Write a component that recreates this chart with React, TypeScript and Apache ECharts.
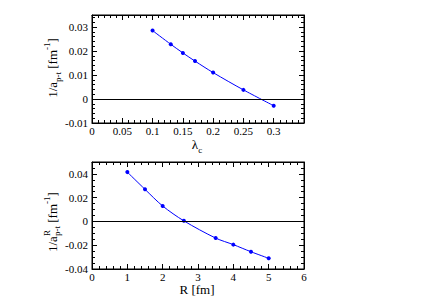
import React, { useEffect, useRef } from "react";
import * as echarts from "echarts";

const lambdaC = [0.1, 0.13, 0.15, 0.17, 0.2, 0.25, 0.3];
const invA = [0.0285, 0.0228, 0.0192, 0.0158, 0.011, 0.0038, -0.0028];
const radiusR = [1, 1.5, 2, 2.6, 3.5, 4, 4.5, 5];
const invAR = [0.0415, 0.027, 0.013, 0.0005, -0.014, -0.0195, -0.0255, -0.031];

const FONT = "'Liberation Serif', 'Times New Roman', serif";

export default function App() {
  const ref = useRef<HTMLDivElement>(null);
  useEffect(() => {
    if (!ref.current) return;
    const chart = echarts.init(ref.current, null, { renderer: "svg" });
    const labelStyle = { fontFamily: FONT, fontSize: 11, color: "#000" };
    const mkX = (gridIndex: number, min: number, max: number, interval: number, top: boolean, margin: number) => ({
      type: "value",
      gridIndex,
      min,
      max,
      interval,
      position: top ? "top" : "bottom",
      axisLine: { show: true, onZero: false, lineStyle: { color: "#000", width: 1 } },
      axisTick: { show: true, inside: true, length: 5, lineStyle: { color: "#000" } },
      minorTick: { show: true, splitNumber: 5, length: 3, lineStyle: { color: "#000" } },
      splitLine: { show: false },
      axisLabel: { show: !top, margin, showMaxLabel: max === 6, ...labelStyle },
    });
    const mkY = (gridIndex: number, min: number, max: number, interval: number, right: boolean, split: number) => ({
      type: "value",
      gridIndex,
      min,
      max,
      interval,
      position: right ? "right" : "left",
      axisLine: { show: true, onZero: false, lineStyle: { color: "#000", width: 1 } },
      axisTick: { show: true, inside: true, length: 5, lineStyle: { color: "#000" } },
      minorTick: { show: true, splitNumber: split, length: 3, lineStyle: { color: "#000" } },
      splitLine: { show: false },
      axisLabel: { show: !right, margin: 4, showMaxLabel: false, ...labelStyle },
    });
    const zeroLine = {
      silent: true,
      symbol: ["none", "none"],
      label: { show: false },
      lineStyle: { color: "#000", type: "solid", width: 1 },
      data: [{ yAxis: 0 }],
    };
    const main = { fontFamily: FONT, fontSize: 13, color: "#000", lineHeight: 20 };
    const sub = { fontFamily: FONT, fontSize: 9, color: "#000", lineHeight: 10, verticalAlign: "bottom" };
    const sup = { fontFamily: FONT, fontSize: 9, color: "#000", lineHeight: 10, verticalAlign: "top" };
    const t = (text: string, x: number, y: number, size: number) => ({
      type: "text",
      x,
      y,
      style: { text, fontFamily: FONT, fontSize: size, fill: "#000", textAlign: "left", textVerticalAlign: "middle" },
    });
    chart.setOption({
      animation: false,
      backgroundColor: "#fff",
      textStyle: { fontFamily: FONT },
      grid: [
        { left: 92, top: 15, width: 212, height: 108, show: true, borderColor: "#000", borderWidth: 1, backgroundColor: "transparent" },
        { left: 92, top: 162, width: 212, height: 107, show: true, borderColor: "#000", borderWidth: 1, backgroundColor: "transparent" },
      ],
      xAxis: [
        mkX(0, 0, 0.35, 0.05, false, 2),
        mkX(0, 0, 0.35, 0.05, true, 2),
        mkX(1, 0, 6, 1, false, 2),
        mkX(1, 0, 6, 1, true, 2),
      ],
      yAxis: [
        mkY(0, -0.01, 0.035, 0.01, false, 5),
        mkY(0, -0.01, 0.035, 0.01, true, 5),
        mkY(1, -0.04, 0.05, 0.02, false, 4),
        mkY(1, -0.04, 0.05, 0.02, true, 4),
      ],
      series: [
        {
          type: "line",
          xAxisIndex: 0,
          yAxisIndex: 0,
          data: lambdaC.map((x, i) => [x, invA[i]]),
          smooth: 0.3,
          symbol: "circle",
          symbolSize: 4,
          itemStyle: { color: "#0000ff" },
          lineStyle: { color: "#0000ff", width: 1 },
          markLine: zeroLine,
        },
        {
          type: "line",
          xAxisIndex: 2,
          yAxisIndex: 2,
          data: radiusR.map((x, i) => [x, invAR[i]]),
          smooth: 0.3,
          symbol: "circle",
          symbolSize: 4,
          itemStyle: { color: "#0000ff" },
          lineStyle: { color: "#0000ff", width: 1 },
          markLine: zeroLine,
        },
      ],
      graphic: [
        {
          type: "text",
          x: 52,
          y: 68,
          rotation: Math.PI / 2,
          style: {
            text: "{a|1/a}{b|p-t}{a| [fm}{c|-1}{a|]}",
            rich: { a: main, b: sub, c: sup },
            textAlign: "center",
            textVerticalAlign: "middle",
          },
        },
        {
          type: "text",
          x: 197,
          y: 144,
          style: {
            text: "{a|λ}{b|c}",
            rich: { a: main, b: sub },
            textAlign: "center",
            textVerticalAlign: "middle",
          },
        },
        {
          type: "group",
          x: 52,
          y: 252,
          rotation: Math.PI / 2,
          children: [
            t("1/a", 0, 0, 13),
            t("R", 16, -5, 9),
            t("p-t", 16, 5, 9),
            t(" [fm", 26, 0, 13),
            t("-1", 48, -5, 9),
            t("]", 55.5, 0, 13),
          ],
        },
        {
          type: "text",
          x: 197,
          y: 289,
          style: { text: "R [fm]", fontFamily: FONT, fontSize: 13, fill: "#000", textAlign: "center", textVerticalAlign: "middle" },
        },
      ],
    });
    return () => chart.dispose();
  }, []);
  return <div ref={ref} style={{ position: "fixed", left: 0, top: 0, width: 421, height: 298 }} />;
}
